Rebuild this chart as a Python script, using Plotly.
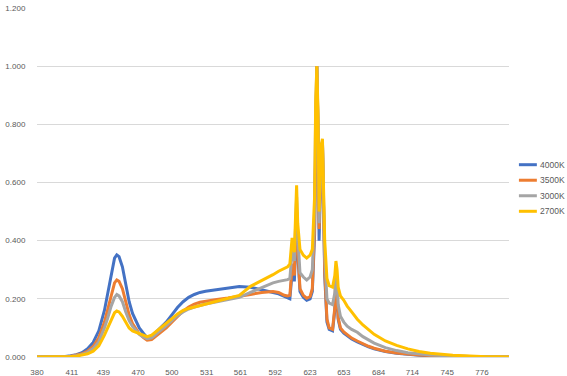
import plotly.graph_objects as go

# Wavelength samples (nm)
wavelength = [380, 390, 400, 405, 410, 415, 420, 425, 430, 435,
              440, 443, 446, 449, 451, 453, 456, 459, 462, 465,
              468, 471, 475, 478, 482, 486, 490, 495, 500, 505,
              510, 515, 520, 525, 530, 540, 550, 560, 570, 580,
              585, 590, 595, 600, 603, 605, 607, 608, 609, 611,
              612, 614, 617, 620, 623, 625, 627, 628, 629, 630,
              631, 632, 633, 634, 635, 636, 638, 640, 643, 645,
              646, 647, 648, 650, 653, 656, 660, 665, 670, 675,
              680, 690, 700, 710, 720, 730, 740, 750, 760, 770,
              780, 790, 800]

# Relative spectral power per CCT
spd_4000k = [0, 0, 0.001, 0.002, 0.004, 0.008, 0.015, 0.028, 0.05, 0.09,
             0.16, 0.22, 0.29, 0.34, 0.351, 0.345, 0.31, 0.25, 0.19, 0.15,
             0.125, 0.1, 0.08, 0.066, 0.07, 0.085, 0.1, 0.12, 0.145, 0.17,
             0.19, 0.205, 0.215, 0.222, 0.226, 0.232, 0.237, 0.242, 0.24, 0.232,
             0.228, 0.222, 0.217, 0.208, 0.203, 0.2, 0.29, 0.3, 0.26, 0.47,
             0.36, 0.225, 0.205, 0.195, 0.2, 0.225, 0.42, 0.8, 1.0, 0.78,
             0.4, 0.55, 0.7, 0.74, 0.5, 0.28, 0.12, 0.095, 0.09, 0.16,
             0.27, 0.22, 0.13, 0.095, 0.082, 0.072, 0.062, 0.052, 0.043, 0.035,
             0.028, 0.019, 0.013, 0.009, 0.006, 0.004, 0.003, 0.002, 0.001, 0.001,
             0, 0, 0]

spd_3500k = [0, 0, 0.001, 0.001, 0.003, 0.006, 0.011, 0.02, 0.036, 0.066,
             0.12, 0.165, 0.215, 0.255, 0.265, 0.26, 0.235, 0.19, 0.145, 0.115,
             0.095, 0.08, 0.066, 0.058, 0.06, 0.072, 0.085, 0.1, 0.12, 0.14,
             0.158, 0.172, 0.182, 0.188, 0.192, 0.198, 0.203, 0.208, 0.215, 0.222,
             0.224, 0.225, 0.222, 0.212, 0.21, 0.212, 0.31, 0.32, 0.28, 0.5,
             0.38, 0.235, 0.212, 0.202, 0.208, 0.235, 0.45, 0.82, 1.0, 0.8,
             0.44, 0.57, 0.71, 0.74, 0.52, 0.3, 0.13, 0.1, 0.095, 0.17,
             0.28, 0.23, 0.135, 0.1, 0.086, 0.076, 0.065, 0.055, 0.045, 0.037,
             0.03, 0.02, 0.014, 0.01, 0.007, 0.005, 0.003, 0.002, 0.001, 0.001,
             0, 0, 0]

spd_3000k = [0, 0, 0.001, 0.001, 0.002, 0.005, 0.009, 0.016, 0.029, 0.053,
             0.1, 0.135, 0.175, 0.205, 0.215, 0.21, 0.19, 0.155, 0.125, 0.105,
             0.09, 0.078, 0.068, 0.063, 0.066, 0.078, 0.092, 0.108, 0.125, 0.142,
             0.155, 0.165, 0.172, 0.178, 0.182, 0.19, 0.198, 0.205, 0.222, 0.238,
             0.245, 0.255, 0.26, 0.263, 0.266, 0.27, 0.36, 0.37, 0.33, 0.55,
             0.42, 0.29, 0.275, 0.265, 0.275, 0.3, 0.5, 0.85, 1.0, 0.82,
             0.46, 0.59, 0.72, 0.74, 0.55, 0.35, 0.2, 0.185, 0.18, 0.22,
             0.3, 0.26, 0.18, 0.14, 0.12, 0.106, 0.095, 0.085, 0.07, 0.058,
             0.048, 0.032, 0.022, 0.015, 0.01, 0.007, 0.005, 0.003, 0.002, 0.001,
             0.001, 0, 0]

spd_2700k = [0, 0, 0, 0.001, 0.002, 0.003, 0.006, 0.011, 0.02, 0.038,
             0.075, 0.1, 0.13, 0.152, 0.158, 0.155, 0.14, 0.118, 0.1, 0.09,
             0.085, 0.08, 0.075, 0.07, 0.075, 0.087, 0.1, 0.115, 0.132, 0.148,
             0.16, 0.167, 0.172, 0.176, 0.18, 0.19, 0.2, 0.212, 0.243, 0.262,
             0.272, 0.283, 0.295, 0.305, 0.31, 0.32, 0.41, 0.38, 0.36, 0.59,
             0.46, 0.37, 0.35, 0.34, 0.35, 0.37, 0.55, 0.88, 1.0, 0.85,
             0.5, 0.62, 0.73, 0.75, 0.58, 0.4, 0.27, 0.245, 0.24, 0.28,
             0.33, 0.3, 0.24, 0.21, 0.195, 0.175, 0.155, 0.13, 0.11, 0.093,
             0.078, 0.055, 0.04, 0.028, 0.019, 0.013, 0.009, 0.006, 0.004, 0.002,
             0.001, 0.001, 0]

series_names = ["4000K", "3500K", "3000K", "2700K"]
series_values = [spd_4000k, spd_3500k, spd_3000k, spd_2700k]
series_colors = ["#4472C4", "#ED7D31", "#A5A5A5", "#FFC000"]

x_tick_labels = [380, 411, 439, 470, 500, 531, 561, 592, 623, 653, 684, 714, 745, 776]
y_tick_values = [0, 0.2, 0.4, 0.6, 0.8, 1.0, 1.2]

FONT = "Liberation Sans, Arial, sans-serif"
TEXT_COLOR = "#595959"
GRID_COLOR = "#D9D9D9"

fig = go.Figure()
for name, vals, color in zip(series_names, series_values, series_colors):
    fig.add_trace(go.Scatter(
        x=wavelength, y=vals, name=name, mode="lines",
        line=dict(color=color, width=3), showlegend=False,
    ))

# Legend drawn at the right edge of the plot area
legend_shapes = []
legend_notes = []
for i, (name, color) in enumerate(zip(series_names, series_colors)):
    ly = 0.551 - i * 0.0445
    legend_shapes.append(dict(type="line", xref="paper", yref="paper",
                              x0=1.021, x1=1.059, y0=ly, y1=ly,
                              line=dict(color=color, width=3)))
    legend_notes.append(dict(xref="paper", yref="paper", x=1.062, y=ly,
                             xanchor="left", yanchor="middle", showarrow=False,
                             text=name, font=dict(family=FONT, size=8.5, color=TEXT_COLOR)))

fig.update_layout(
    width=567, height=376,
    margin=dict(l=37, r=58, t=8, b=19),
    paper_bgcolor="white", plot_bgcolor="white",
    font=dict(family=FONT, size=8, color=TEXT_COLOR),
    shapes=legend_shapes, annotations=legend_notes,
    xaxis=dict(
        range=[380, 800], tickmode="array", tickvals=x_tick_labels,
        ticktext=[str(v) for v in x_tick_labels],
        showgrid=False, zeroline=False, automargin=False,
        showline=True, linecolor=GRID_COLOR, linewidth=1,
        ticks="outside", ticklen=7, tickcolor="rgba(0,0,0,0)",
        tickfont=dict(family=FONT, size=8, color=TEXT_COLOR),
    ),
    yaxis=dict(
        range=[0, 1.2], tickmode="array", tickvals=y_tick_values,
        ticktext=[f"{v:.3f}" for v in y_tick_values],
        showgrid=True, gridcolor=GRID_COLOR, gridwidth=1, zeroline=False,
        automargin=False,
        ticks="outside", ticklen=9, tickcolor="rgba(0,0,0,0)",
        tickfont=dict(family=FONT, size=8, color=TEXT_COLOR),
    ),
)

fig.write_html("out.html")
